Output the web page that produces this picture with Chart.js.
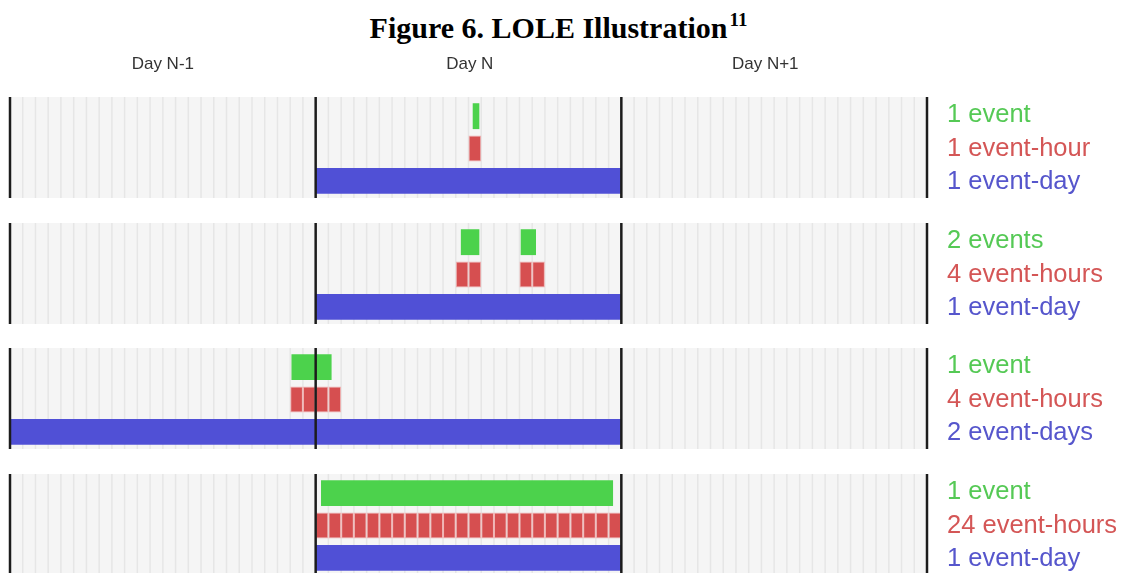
<!DOCTYPE html>
<html>
<head>
<meta charset="utf-8">
<script src="https://cdn.jsdelivr.net/npm/chart.js@4"></script>
<style>
  html, body { margin: 0; padding: 0; background: #ffffff; }
  body { width: 1127px; height: 573px; position: relative; overflow: hidden; }
  #title { position: absolute; left: 0; top: 11px; width: 1117px; text-align: center;
    font-family: "Liberation Serif", "Times New Roman", serif; font-weight: bold; font-size: 30px; line-height: 1; color: #000; }
  #title sup { font-size: 19px; position: relative; top: -1px; margin-left: 2px; }
  canvas { position: absolute; left: 0; }
</style>
</head>
<body>
<div id="title">Figure 6. LOLE Illustration<sup>11</sup></div>
<canvas id="c1"></canvas>
<canvas id="c2"></canvas>
<canvas id="c3"></canvas>
<canvas id="c4"></canvas>
<script>
// ---- data ----
const totalHours = 72;
const dayBoundaries = [0, 24, 48, 72];
const rowKeys = ['events', 'hours', 'days'];
const dayLabels = ['Day N-1', 'Day N', 'Day N+1'];
const dayLabelHours = [12.0, 36.1, 59.3];

const panel1Events = [[36.33, 36.85]];
const panel1EventHours = [36];
const panel1EventDays = [[24, 48]];
const panel1Labels = ['1 event', '1 event-hour', '1 event-day'];

const panel2Events = [[35.4, 36.85], [40.1, 41.3]];
const panel2EventHours = [35, 36, 40, 41];
const panel2EventDays = [[24, 48]];
const panel2Labels = ['2 events', '4 event-hours', '1 event-day'];

const panel3Events = [[22.1, 25.25]];
const panel3EventHours = [22, 23, 24, 25];
const panel3EventDays = [[0, 24], [24, 48]];
const panel3Labels = ['1 event', '4 event-hours', '2 event-days'];

const panel4Events = [[24.42, 47.35]];
const panel4EventHours = [24, 25, 26, 27, 28, 29, 30, 31, 32, 33, 34, 35, 36, 37, 38, 39, 40, 41, 42, 43, 44, 45, 46, 47];
const panel4EventDays = [[24, 48]];
const panel4Labels = ['1 event', '24 event-hours', '1 event-day'];

// ---- styles ----
const GREEN = '#4cd24c', RED = '#d64f50', BLUE = '#5050d6';
const TEXT_COLORS = ['#55c955', '#d45656', '#5656cc'];
const PAD_TOP = 3, PAD_BOTTOM = 1;

const panelPlugin = {
  id: 'panelDeco',
  beforeDatasetsDraw(chart, args, opts) {
    const ctx = chart.ctx, xs = chart.scales.x, ca = chart.chartArea;
    const top = ca.top - PAD_TOP, bottom = ca.bottom + PAD_BOTTOM;
    const x0 = xs.getPixelForValue(0), x1 = xs.getPixelForValue(totalHours);
    ctx.save();
    ctx.fillStyle = '#f5f5f5';
    ctx.fillRect(x0, top, x1 - x0, bottom - top);
    ctx.strokeStyle = '#e6e6e6';
    ctx.lineWidth = 1.5;
    for (let h = 1; h < totalHours; h++) {
      const px = xs.getPixelForValue(h);
      ctx.beginPath(); ctx.moveTo(px, top); ctx.lineTo(px, bottom); ctx.stroke();
    }
    ctx.restore();
  },
  afterDatasetsDraw(chart, args, opts) {
    const ctx = chart.ctx, xs = chart.scales.x, ys = chart.scales.y, ca = chart.chartArea;
    const top = ca.top - PAD_TOP, bottom = ca.bottom + PAD_BOTTOM;
    ctx.save();
    ctx.strokeStyle = '#1c1c1c';
    ctx.lineWidth = 2.5;
    dayBoundaries.forEach(h => {
      const px = xs.getPixelForValue(h);
      ctx.beginPath(); ctx.moveTo(px, top); ctx.lineTo(px, bottom); ctx.stroke();
    });
    // right-hand labels
    ctx.font = '25.5px "Liberation Sans", Arial, sans-serif';
    ctx.textBaseline = 'middle';
    ctx.textAlign = 'left';
    opts.labels.forEach((t, i) => {
      ctx.fillStyle = TEXT_COLORS[i];
      ctx.fillText(t, ca.right + 20, ys.getPixelForValue(i) + (i - 1) * 1.2);
    });
    if (opts.dayLabels) {
      ctx.font = '17px "Liberation Sans", Arial, sans-serif';
      ctx.fillStyle = '#333333';
      ctx.textAlign = 'center';
      dayLabels.forEach((t, i) => {
        ctx.fillText(t, xs.getPixelForValue(dayLabelHours[i]), top - 33);
      });
    }
    ctx.restore();
  }
};

function makePanel(id, canvasTop, height, extraTop, events, eventHours, eventDays, labels, showDays) {
  const cv = document.getElementById(id);
  cv.width = 1127; cv.height = height;
  cv.style.width = '1127px'; cv.style.height = height + 'px';
  cv.style.top = canvasTop + 'px';
  const common = { grouped: false, barPercentage: 0.8, categoryPercentage: 1, borderSkipped: false };
  new Chart(cv, {
    type: 'bar',
    data: {
      labels: rowKeys,
      datasets: [
        Object.assign({ label: 'events', data: events.map(e => ({ y: 'events', x: e })),
          backgroundColor: GREEN, borderWidth: 0 }, common),
        Object.assign({ label: 'event-hours', data: eventHours.map(h => ({ y: 'hours', x: [h, h + 1] })),
          backgroundColor: RED, borderColor: '#f0b4b4', borderWidth: 1 }, common),
        Object.assign({ label: 'event-days', data: eventDays.map(d => ({ y: 'days', x: d })),
          backgroundColor: BLUE, borderWidth: 0 }, common)
      ]
    },
    options: {
      indexAxis: 'y',
      responsive: false,
      animation: false,
      layout: { padding: { left: 10, right: 200, top: PAD_TOP + extraTop, bottom: PAD_BOTTOM } },
      scales: {
        x: { type: 'linear', min: 0, max: totalHours, display: false },
        y: { type: 'category', display: false, offset: true }
      },
      plugins: {
        legend: { display: false },
        tooltip: { enabled: false },
        title: { display: false },
        panelDeco: { labels: labels, dayLabels: showDays }
      }
    },
    plugins: [panelPlugin]
  });
}

makePanel('c1', 40, 158, 57, panel1Events, panel1EventHours, panel1EventDays, panel1Labels, true);
makePanel('c2', 223, 101, 0, panel2Events, panel2EventHours, panel2EventDays, panel2Labels, false);
makePanel('c3', 348, 101, 0, panel3Events, panel3EventHours, panel3EventDays, panel3Labels, false);
makePanel('c4', 474, 101, 0, panel4Events, panel4EventHours, panel4EventDays, panel4Labels, false);
</script>
</body>
</html>
